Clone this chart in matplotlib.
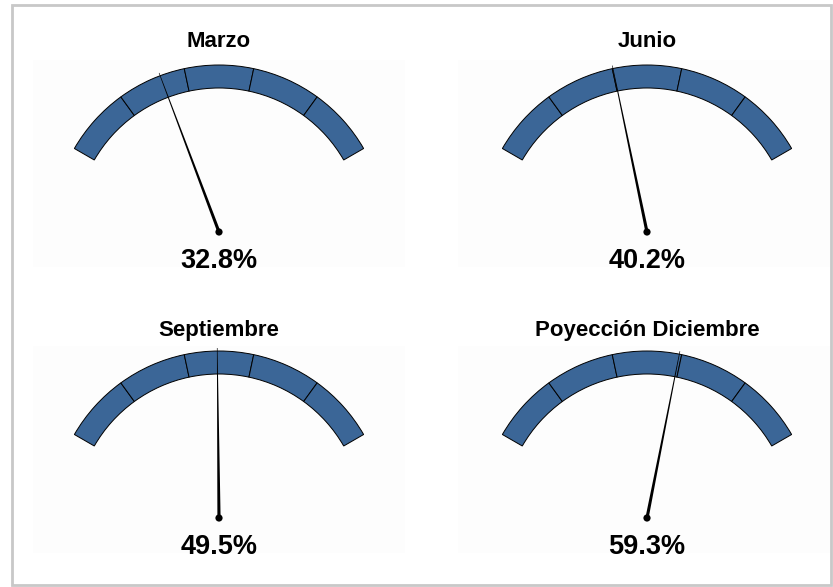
import numpy as np
import matplotlib.pyplot as plt
from matplotlib.patches import Wedge, Rectangle, Polygon, Circle

# Gauge data
titles = ['Marzo', 'Junio', 'Septiembre', 'Poyección Diciembre']
values = [32.8, 40.2, 49.5, 59.3]
band_edges = [0, 20, 40, 60, 80, 100]

BLUE = '#3b6697'
plt.rcParams['font.family'] = ['Liberation Sans', 'DejaVu Sans']


def angle(v):
    # 0 -> 150 deg, 100 -> 30 deg
    return 150 - 1.2 * v


def draw_gauge(ax, cx, cy, title, value, title_dy, value_dy):
    r_out, r_in = 167, 144
    for lo, hi in zip(band_edges[:-1], band_edges[1:]):
        ax.add_patch(Wedge((cx, cy), r_out, angle(hi), angle(lo),
                           width=r_out - r_in, facecolor=BLUE,
                           edgecolor='black', linewidth=0.7))
    # tapered needle
    a = np.radians(angle(value))
    length = 170
    tip = np.array([cx + length * np.cos(a), cy + length * np.sin(a)])
    perp = np.array([-np.sin(a), np.cos(a)])
    base = np.array([cx, cy])
    pts = [base + perp * 1.6, tip + perp * 0.3, tip - perp * 0.3, base - perp * 1.6]
    ax.add_patch(Polygon(pts, closed=True, facecolor='black', edgecolor='none'))
    ax.add_patch(Circle((cx, cy), 3.6, facecolor='black', edgecolor='none'))
    ax.text(cx, cy + title_dy, title, ha='center', va='baseline',
            fontsize=16, fontweight='bold')
    ax.text(cx, cy + value_dy, f'{value:.1f}%', ha='center', va='baseline',
            fontsize=19.5, fontweight='bold')


fig = plt.figure(figsize=(8.33, 5.87), dpi=100)
ax = fig.add_axes([0, 0, 1, 1])
ax.set_xlim(0, 833)
ax.set_ylim(0, 587)
ax.axis('off')

# outer frame
ax.add_patch(Rectangle((12, 2), 819, 580, facecolor='white',
                       edgecolor='#c8c8c8', linewidth=2))
# faint panel backgrounds
for x0, y0, w, h in [(33, 320, 372, 207), (458, 320, 372, 207),
                     (33, 34, 372, 207), (458, 34, 372, 207)]:
    ax.add_patch(Rectangle((x0, y0), w, h, facecolor='#fdfdfd', edgecolor='none'))

centers = [(219, 355), (647, 355), (219, 69), (647, 69)]
title_offsets = [185, 185, 182, 182]
value_offsets = [-36, -36, -36, -36]
for (cx, cy), t, v, tdy, vdy in zip(centers, titles, values, title_offsets, value_offsets):
    draw_gauge(ax, cx, cy, t, v, tdy, vdy)

fig.savefig('out.png', dpi=100)
